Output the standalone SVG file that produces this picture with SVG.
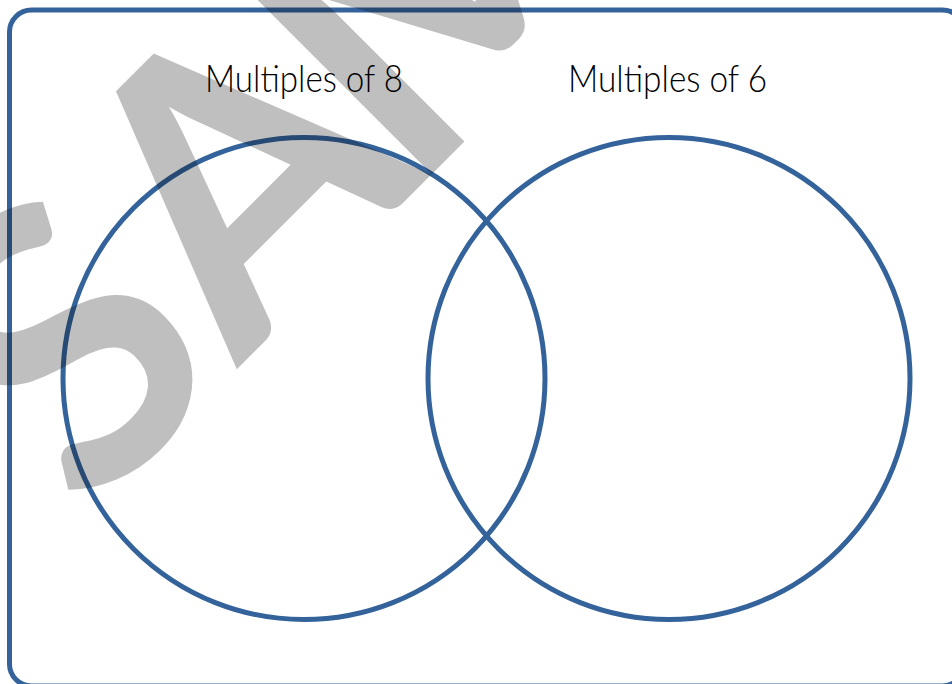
<svg xmlns="http://www.w3.org/2000/svg" width="952" height="684" viewBox="0 0 952 684">
  <style>
    .frame { fill: none; stroke: #33639a; stroke-width: 5; }
    .set { fill: none; stroke: #33639a; stroke-width: 5; }
    .label { font-family: Lato, "Liberation Sans", sans-serif; font-size: 38px; font-weight: 300; fill: #000; text-anchor: middle; }
    .wm { font-family: Lato, "Liberation Sans", sans-serif; font-size: 390px; font-weight: 700; fill: #000; fill-opacity: 0.25; text-anchor: middle; }
  </style>
  <rect width="952" height="684" fill="#ffffff"/>
  <g id="frame">
    <rect class="frame" x="9.5" y="10" width="955" height="676" rx="22" ry="22"/>
  </g>
  <g id="set-multiples-of-8">
    <circle class="set" cx="304" cy="378.5" r="241"/>
    <text class="label" x="304" y="92" textLength="198" lengthAdjust="spacingAndGlyphs">Multiples of 8</text>
  </g>
  <g id="set-multiples-of-6">
    <circle class="set" cx="669" cy="378.5" r="241"/>
    <text class="label" x="667.5" y="92" textLength="199" lengthAdjust="spacingAndGlyphs">Multiples of 6</text>
  </g>
  <g id="connectors"/>
  <g id="watermark" transform="translate(303 303) rotate(-45)">
    <text class="wm" y="0"><tspan x="-200">S</tspan><tspan x="44">A</tspan><tspan x="335">M</tspan></text>
  </g>
</svg>
